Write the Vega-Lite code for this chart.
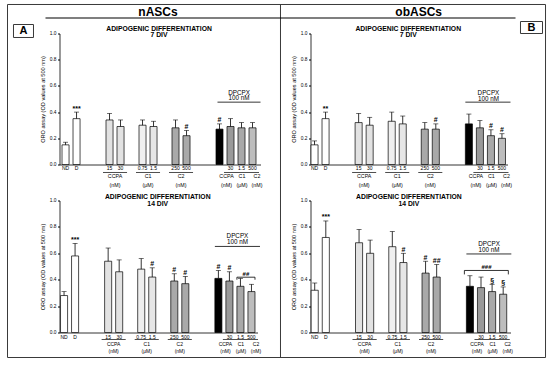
{
  "$schema": "https://vega.github.io/schema/vega-lite/v6.json",
  "background": "white",
  "padding": {"left": 6.5, "top": 3.5, "right": 4, "bottom": 6},
  "config": {"font": "Liberation Sans", "view": {"stroke": null}, "axisY": {"labelOverlap": false}},
  "bounds": "flush",
  "columns": 2,
  "spacing": {"row": 36, "column": 50},
  "concat": [
        {
          "width": 201, "height": 131,
          "data": {"values": [
            {"cond":"ND","mean":0.15,"upper":0.17,"sig":""},
            {"cond":"D","mean":0.35,"upper":0.40,"sig":"***"},
            {"cond":"CCPA 15","mean":0.34,"upper":0.39,"sig":""},
            {"cond":"CCPA 30","mean":0.29,"upper":0.34,"sig":""},
            {"cond":"C1 0.75","mean":0.30,"upper":0.34,"sig":""},
            {"cond":"C1 1.5","mean":0.29,"upper":0.33,"sig":""},
            {"cond":"C2 250","mean":0.28,"upper":0.34,"sig":""},
            {"cond":"C2 500","mean":0.22,"upper":0.26,"sig":"#"},
            {"cond":"DPCPX","mean":0.27,"upper":0.31,"sig":"#"},
            {"cond":"DPCPX+CCPA 30","mean":0.29,"upper":0.35,"sig":""},
            {"cond":"DPCPX+C1 1.5","mean":0.28,"upper":0.32,"sig":""},
            {"cond":"DPCPX+C2 500","mean":0.28,"upper":0.32,"sig":""}
          ]},
          "resolve": {"scale": {"x": "independent"}},
          "layer": [
            {"layer": [
              {"mark": {"type": "bar", "stroke": "black", "strokeWidth": 0.7},
               "encoding": {
                 "x": {"field": "cond", "type": "nominal",
                   "scale": {"domain": ["ND","D","gap1","gap2","CCPA 15","CCPA 30","gap3","C1 0.75","C1 1.5","gap4","C2 250","C2 500","gap5","gap6","DPCPX","DPCPX+CCPA 30","DPCPX+C1 1.5","DPCPX+C2 500"], "paddingInner": 0.36, "paddingOuter": 0.318, "align": 0.36},
                   "axis": {"title": null, "labelExpr": "indexof(datum.value,' ') > 0 ? split(datum.value,' ')[1] : ((datum.value == 'ND' || datum.value == 'D') ? datum.value : '')", "ticks": false, "tickSize": 0, "labelPadding": 1, "labelFontSize": 5, "labelAngle": 0, "labelOverlap": false, "domainColor": "black", "domainWidth": 0.8, "labelColor": "black"}},
                 "y": {"field": "mean", "type": "quantitative", "scale": {"domain": [0, 1], "nice": false},
                   "axis": {"title": "ORO assay (OD values at 500 nm)", "values": [0, 0.2, 0.4, 0.6, 0.8, 1], "tickCount": 12, "format": ".1f", "labelFontSize": 4.8, "labelOverlap": false, "tickSize": 2, "labelPadding": 1.5, "titleFontSize": 5.6, "titleFontWeight": "normal", "titlePadding": 3.5, "grid": false, "domainColor": "black", "tickColor": "black", "labelColor": "black", "titleColor": "black", "domainWidth": 0.8}},
                 "fill": {"field": "cond", "type": "nominal", "legend": null,
                   "scale": {"domain": ["ND","D","CCPA 15","CCPA 30","C1 0.75","C1 1.5","C2 250","C2 500","DPCPX","DPCPX+CCPA 30","DPCPX+C1 1.5","DPCPX+C2 500"], "range": ["#ffffff","#ffffff","#e2e2e2","#e2e2e2","#efefef","#e6e6e6","#a9a9a9","#a9a9a9","#000000","#9a9a9a","#a9a9a9","#bdbdbd"]}}
               }},
              {"mark": {"type": "rule", "color": "black", "strokeWidth": 0.8},
               "encoding": {"x": {"field": "cond", "type": "nominal"}, "y": {"field": "mean", "type": "quantitative"}, "y2": {"field": "upper"}}},
              {"mark": {"type": "tick", "color": "black", "size": 5, "thickness": 0.8},
               "encoding": {"x": {"field": "cond", "type": "nominal"}, "y": {"field": "upper", "type": "quantitative"}}},
              {"transform": [{"filter": "datum.sig != ''"}],
               "mark": {"type": "text", "baseline": "bottom", "dy": -0.5, "fontSize": 7, "fontWeight": "bold"},
               "encoding": {"x": {"field": "cond", "type": "nominal"}, "y": {"field": "upper", "type": "quantitative"}, "text": {"field": "sig"}}},
              {"data": {"values": [{"cond":"CCPA 15","g":"CCPA\n(nM)"},{"cond":"C1 0.75","g":"C1\n(μM)"},{"cond":"C2 250","g":"C2\n(nM)"}]},
               "mark": {"type": "text", "baseline": "top", "dx": 5.5, "fontSize": 5.3, "lineHeight": 9, "lineBreak": "\n"},
               "encoding": {"x": {"field": "cond", "type": "nominal"}, "y": {"datum": -0.0714}, "text": {"field": "g"}}},
              {"data": {"values": [{"cond":"CCPA 15","end":"CCPA 30"},{"cond":"C1 0.75","end":"C1 1.5"},{"cond":"C2 250","end":"C2 500"},{"cond":"DPCPX+CCPA 30","end":"DPCPX+C2 500"}]},
               "mark": {"type": "rule", "color": "black", "strokeWidth": 0.7, "xOffset": -3, "x2Offset": 3},
               "encoding": {"x": {"field": "cond", "type": "nominal", "bandPosition": 0}, "x2": {"field": "end", "bandPosition": 1}, "y": {"datum": -0.061}}},
              {"data": {"values": [{"cond":"DPCPX+CCPA 30","g":"CCPA\n(nM)"}]},
               "mark": {"type": "text", "baseline": "top", "dx": -4, "fontSize": 5.3, "lineHeight": 9, "lineBreak": "\n"},
               "encoding": {"x": {"field": "cond", "type": "nominal"}, "y": {"datum": -0.0714}, "text": {"field": "g"}}},
              {"data": {"values": [{"cond":"DPCPX+C1 1.5","g":"C1\n(μM)"}]},
               "mark": {"type": "text", "baseline": "top", "dx": 0.5, "fontSize": 5.3, "lineHeight": 9, "lineBreak": "\n"},
               "encoding": {"x": {"field": "cond", "type": "nominal"}, "y": {"datum": -0.0714}, "text": {"field": "g"}}},
              {"data": {"values": [{"cond":"DPCPX+C2 500","g":"C2\n(nM)"}]},
               "mark": {"type": "text", "baseline": "top", "dx": 4.5, "fontSize": 5.3, "lineHeight": 9, "lineBreak": "\n"},
               "encoding": {"x": {"field": "cond", "type": "nominal"}, "y": {"datum": -0.0714}, "text": {"field": "g"}}},
              {"data": {"values": [{"cond":"DPCPX+C1 1.5","t":"DPCPX\n100 nM"}]},
               "mark": {"type": "text", "baseline": "top", "dx": -2.5, "fontSize": 6.3, "lineHeight": 5.5, "lineBreak": "\n"},
               "encoding": {"x": {"field": "cond", "type": "nominal"}, "y": {"datum": 0.569}, "text": {"field": "t"}}},
              {"data": {"values": [{"cond":"DPCPX","end":"DPCPX+C2 500"}]},
               "mark": {"type": "rule", "color": "black", "strokeWidth": 0.8, "xOffset": 1.5, "x2Offset": 4.5},
               "encoding": {"x": {"field": "cond", "type": "nominal", "bandPosition": 0}, "x2": {"field": "end", "bandPosition": 1}, "y": {"datum": 0.476}}},
              {"data": {"values": [{"cond":"C1 1.5","t":"ADIPOGENIC DIFFERENTIATION\n7 DIV"}]},
               "mark": {"type": "text", "baseline": "top", "dx": 5.5, "dy": -8, "fontSize": 6.8, "fontWeight": "bold", "lineHeight": 6.5, "lineBreak": "\n"},
               "encoding": {"x": {"field": "cond", "type": "nominal"}, "y": {"datum": 1}, "text": {"field": "t"}}}
            ]},
            {"data": {"values": [{}]},
             "layer": [
              {"mark": {"type": "rect", "fill": "white", "fillOpacity": 0, "stroke": "#3a3a3a", "strokeWidth": 1},
               "encoding": {"x": {"datum": -0.2587, "type": "quantitative", "scale": {"domain": [0, 1], "nice": false, "zero": false}, "axis": null}, "x2": {"datum": 2.418}, "y": {"datum": 1.2214, "type": "quantitative"}, "y2": {"datum": -1.4733}}},
              {"mark": {"type": "rule", "color": "#3a3a3a", "strokeWidth": 1},
               "encoding": {"x": {"datum": 1.0995, "type": "quantitative"}, "y": {"datum": 1.2214, "type": "quantitative"}, "y2": {"datum": -1.4733}}},
              {"mark": {"type": "rule", "color": "black", "strokeWidth": 1.2},
               "encoding": {"x": {"datum": -0.0697, "type": "quantitative"}, "x2": {"datum": 2.2687}, "y": {"datum": 1.1183, "type": "quantitative"}}},
              {"mark": {"type": "text", "fontSize": 12, "fontWeight": "bold", "baseline": "middle"},
               "encoding": {"x": {"datum": 0.490, "type": "quantitative"}, "y": {"datum": 1.1641, "type": "quantitative"}, "text": {"value": "nASCs"}}},
              {"mark": {"type": "text", "fontSize": 12, "fontWeight": "bold", "baseline": "middle"},
               "encoding": {"x": {"datum": 1.787, "type": "quantitative"}, "y": {"datum": 1.1641, "type": "quantitative"}, "text": {"value": "obASCs"}}},
              {"mark": {"type": "rect", "fill": "white", "stroke": "#3a3a3a", "strokeWidth": 1},
               "encoding": {"x": {"datum": -0.2289, "type": "quantitative"}, "x2": {"datum": -0.1294}, "y": {"datum": 1.0687, "type": "quantitative"}, "y2": {"datum": 0.9695}}},
              {"mark": {"type": "text", "fontSize": 11, "fontWeight": "bold", "baseline": "middle"},
               "encoding": {"x": {"datum": -0.1791, "type": "quantitative"}, "y": {"datum": 1.0191, "type": "quantitative"}, "text": {"value": "A"}}},
              {"mark": {"type": "rect", "fill": "white", "stroke": "#3a3a3a", "strokeWidth": 1},
               "encoding": {"x": {"datum": 2.2935, "type": "quantitative"}, "x2": {"datum": 2.403}, "y": {"datum": 1.0916, "type": "quantitative"}, "y2": {"datum": 1.0}}},
              {"mark": {"type": "text", "fontSize": 11, "fontWeight": "bold", "baseline": "middle"},
               "encoding": {"x": {"datum": 2.3483, "type": "quantitative"}, "y": {"datum": 1.0458, "type": "quantitative"}, "text": {"value": "B"}}}
             ]}
          ]
        },
        {
          "width": 197, "height": 131,
          "data": {"values": [
            {"cond":"ND","mean":0.15,"upper":0.18,"sig":""},
            {"cond":"D","mean":0.35,"upper":0.40,"sig":"**"},
            {"cond":"CCPA 15","mean":0.32,"upper":0.39,"sig":""},
            {"cond":"CCPA 30","mean":0.30,"upper":0.36,"sig":""},
            {"cond":"C1 0.75","mean":0.33,"upper":0.40,"sig":""},
            {"cond":"C1 1.5","mean":0.31,"upper":0.37,"sig":""},
            {"cond":"C2 250","mean":0.27,"upper":0.32,"sig":""},
            {"cond":"C2 500","mean":0.27,"upper":0.31,"sig":"#"},
            {"cond":"DPCPX","mean":0.31,"upper":0.385,"sig":""},
            {"cond":"DPCPX+CCPA 30","mean":0.28,"upper":0.335,"sig":""},
            {"cond":"DPCPX+C1 1.5","mean":0.22,"upper":0.265,"sig":"#"},
            {"cond":"DPCPX+C2 500","mean":0.20,"upper":0.235,"sig":"#"}
          ]},
          "layer": [
            {"mark": {"type": "bar", "stroke": "black", "strokeWidth": 0.7},
             "encoding": {
               "x": {"field": "cond", "type": "nominal",
                 "scale": {"domain": ["ND","D","gap1","gap2","CCPA 15","CCPA 30","gap3","C1 0.75","C1 1.5","gap4","C2 250","C2 500","gap5","gap6","DPCPX","DPCPX+CCPA 30","DPCPX+C1 1.5","DPCPX+C2 500"], "paddingInner": 0.36, "paddingOuter": 0.114, "align": 0.2},
                 "axis": {"title": null, "labelExpr": "indexof(datum.value,' ') > 0 ? split(datum.value,' ')[1] : ((datum.value == 'ND' || datum.value == 'D') ? datum.value : '')", "ticks": false, "tickSize": 0, "labelPadding": 1, "labelFontSize": 5, "labelAngle": 0, "labelOverlap": false, "domainColor": "black", "domainWidth": 0.8, "labelColor": "black"}},
               "y": {"field": "mean", "type": "quantitative", "scale": {"domain": [0, 1], "nice": false},
                 "axis": {"title": "ORO assay (OD values at 500 nm)", "values": [0, 0.2, 0.4, 0.6, 0.8, 1], "tickCount": 12, "format": ".1f", "labelFontSize": 4.8, "labelOverlap": false, "tickSize": 2, "labelPadding": 1.5, "titleFontSize": 5.6, "titleFontWeight": "normal", "titlePadding": 3.5, "grid": false, "domainColor": "black", "tickColor": "black", "labelColor": "black", "titleColor": "black", "domainWidth": 0.8}},
               "fill": {"field": "cond", "type": "nominal", "legend": null,
                 "scale": {"domain": ["ND","D","CCPA 15","CCPA 30","C1 0.75","C1 1.5","C2 250","C2 500","DPCPX","DPCPX+CCPA 30","DPCPX+C1 1.5","DPCPX+C2 500"], "range": ["#ffffff","#ffffff","#e2e2e2","#e2e2e2","#e6e6e6","#efefef","#a9a9a9","#a9a9a9","#000000","#9a9a9a","#a9a9a9","#bdbdbd"]}}
             }},
            {"mark": {"type": "rule", "color": "black", "strokeWidth": 0.8},
             "encoding": {"x": {"field": "cond", "type": "nominal"}, "y": {"field": "mean", "type": "quantitative"}, "y2": {"field": "upper"}}},
            {"mark": {"type": "tick", "color": "black", "size": 5, "thickness": 0.8},
             "encoding": {"x": {"field": "cond", "type": "nominal"}, "y": {"field": "upper", "type": "quantitative"}}},
            {"transform": [{"filter": "datum.sig != ''"}],
             "mark": {"type": "text", "baseline": "bottom", "dy": -0.5, "fontSize": 7, "fontWeight": "bold"},
             "encoding": {"x": {"field": "cond", "type": "nominal"}, "y": {"field": "upper", "type": "quantitative"}, "text": {"field": "sig"}}},
            {"data": {"values": [{"cond":"CCPA 15","g":"CCPA\n(nM)"},{"cond":"C1 0.75","g":"C1\n(μM)"},{"cond":"C2 250","g":"C2\n(nM)"}]},
             "mark": {"type": "text", "baseline": "top", "dx": 5.5, "fontSize": 5.3, "lineHeight": 9, "lineBreak": "\n"},
             "encoding": {"x": {"field": "cond", "type": "nominal"}, "y": {"datum": -0.0714}, "text": {"field": "g"}}},
            {"data": {"values": [{"cond":"CCPA 15","end":"CCPA 30"},{"cond":"C1 0.75","end":"C1 1.5"},{"cond":"C2 250","end":"C2 500"},{"cond":"DPCPX+CCPA 30","end":"DPCPX+C2 500"}]},
             "mark": {"type": "rule", "color": "black", "strokeWidth": 0.7, "xOffset": -3, "x2Offset": 3},
             "encoding": {"x": {"field": "cond", "type": "nominal", "bandPosition": 0}, "x2": {"field": "end", "bandPosition": 1}, "y": {"datum": -0.061}}},
            {"data": {"values": [{"cond":"DPCPX+CCPA 30","g":"CCPA\n(nM)"}]},
             "mark": {"type": "text", "baseline": "top", "dx": -4, "fontSize": 5.3, "lineHeight": 9, "lineBreak": "\n"},
             "encoding": {"x": {"field": "cond", "type": "nominal"}, "y": {"datum": -0.0714}, "text": {"field": "g"}}},
            {"data": {"values": [{"cond":"DPCPX+C1 1.5","g":"C1\n(μM)"}]},
             "mark": {"type": "text", "baseline": "top", "dx": 0.5, "fontSize": 5.3, "lineHeight": 9, "lineBreak": "\n"},
             "encoding": {"x": {"field": "cond", "type": "nominal"}, "y": {"datum": -0.0714}, "text": {"field": "g"}}},
            {"data": {"values": [{"cond":"DPCPX+C2 500","g":"C2\n(nM)"}]},
             "mark": {"type": "text", "baseline": "top", "dx": 4.5, "fontSize": 5.3, "lineHeight": 9, "lineBreak": "\n"},
             "encoding": {"x": {"field": "cond", "type": "nominal"}, "y": {"datum": -0.0714}, "text": {"field": "g"}}},
            {"data": {"values": [{"cond":"DPCPX+C1 1.5","t":"DPCPX\n100 nM"}]},
             "mark": {"type": "text", "baseline": "top", "dx": -2.5, "fontSize": 6.3, "lineHeight": 5.5, "lineBreak": "\n"},
             "encoding": {"x": {"field": "cond", "type": "nominal"}, "y": {"datum": 0.566}, "text": {"field": "t"}}},
            {"data": {"values": [{"cond":"DPCPX","end":"DPCPX+C2 500"}]},
             "mark": {"type": "rule", "color": "black", "strokeWidth": 0.8, "xOffset": 0, "x2Offset": 5},
             "encoding": {"x": {"field": "cond", "type": "nominal", "bandPosition": 0}, "x2": {"field": "end", "bandPosition": 1}, "y": {"datum": 0.476}}},
            {"data": {"values": [{"cond":"C1 1.5","t":"ADIPOGENIC DIFFERENTIATION\n7 DIV"}]},
             "mark": {"type": "text", "baseline": "top", "dx": 5.5, "dy": -8, "fontSize": 6.8, "fontWeight": "bold", "lineHeight": 6.5, "lineBreak": "\n"},
             "encoding": {"x": {"field": "cond", "type": "nominal"}, "y": {"datum": 1}, "text": {"field": "t"}}}
          ]
        },
        {
          "width": 198, "height": 132,
          "data": {"values": [
            {"cond":"ND","mean":0.28,"upper":0.31,"sig":""},
            {"cond":"D","mean":0.58,"upper":0.675,"sig":"***"},
            {"cond":"CCPA 15","mean":0.54,"upper":0.64,"sig":""},
            {"cond":"CCPA 30","mean":0.46,"upper":0.55,"sig":""},
            {"cond":"C1 0.75","mean":0.48,"upper":0.56,"sig":""},
            {"cond":"C1 1.5","mean":0.42,"upper":0.49,"sig":"#"},
            {"cond":"C2 250","mean":0.39,"upper":0.445,"sig":"#"},
            {"cond":"C2 500","mean":0.37,"upper":0.425,"sig":"#"},
            {"cond":"DPCPX","mean":0.41,"upper":0.47,"sig":"#"},
            {"cond":"DPCPX+CCPA 30","mean":0.39,"upper":0.46,"sig":"#"},
            {"cond":"DPCPX+C1 1.5","mean":0.35,"upper":0.41,"sig":""},
            {"cond":"DPCPX+C2 500","mean":0.31,"upper":0.365,"sig":""}
          ]},
          "layer": [
            {"mark": {"type": "bar", "stroke": "black", "strokeWidth": 0.7},
             "encoding": {
               "x": {"field": "cond", "type": "nominal",
                 "scale": {"domain": ["ND","D","gap1","gap2","CCPA 15","CCPA 30","gap3","C1 0.75","C1 1.5","gap4","C2 250","C2 500","gap5","gap6","DPCPX","DPCPX+CCPA 30","DPCPX+C1 1.5","DPCPX+C2 500"], "paddingInner": 0.36, "paddingOuter": 0.16, "align": 0.29},
                 "axis": {"title": null, "labelExpr": "indexof(datum.value,' ') > 0 ? split(datum.value,' ')[1] : ((datum.value == 'ND' || datum.value == 'D') ? datum.value : '')", "ticks": false, "tickSize": 0, "labelPadding": 1.5, "labelFontSize": 5, "labelAngle": 0, "labelOverlap": false, "domainColor": "black", "domainWidth": 0.8, "labelColor": "black"}},
               "y": {"field": "mean", "type": "quantitative", "scale": {"domain": [0, 1], "nice": false},
                 "axis": {"title": "ORO assay (OD values at 500 nm)", "values": [0, 0.2, 0.4, 0.6, 0.8, 1], "tickCount": 12, "format": ".1f", "labelFontSize": 4.8, "labelOverlap": false, "tickSize": 2, "labelPadding": 1.5, "titleFontSize": 5.6, "titleFontWeight": "normal", "titlePadding": 3.5, "grid": false, "domainColor": "black", "tickColor": "black", "labelColor": "black", "titleColor": "black", "domainWidth": 0.8}},
               "fill": {"field": "cond", "type": "nominal", "legend": null,
                 "scale": {"domain": ["ND","D","CCPA 15","CCPA 30","C1 0.75","C1 1.5","C2 250","C2 500","DPCPX","DPCPX+CCPA 30","DPCPX+C1 1.5","DPCPX+C2 500"], "range": ["#ffffff","#ffffff","#e2e2e2","#e2e2e2","#efefef","#e6e6e6","#a9a9a9","#a9a9a9","#000000","#9a9a9a","#a9a9a9","#bdbdbd"]}}
             }},
            {"mark": {"type": "rule", "color": "black", "strokeWidth": 0.8},
             "encoding": {"x": {"field": "cond", "type": "nominal"}, "y": {"field": "mean", "type": "quantitative"}, "y2": {"field": "upper"}}},
            {"mark": {"type": "tick", "color": "black", "size": 5, "thickness": 0.8},
             "encoding": {"x": {"field": "cond", "type": "nominal"}, "y": {"field": "upper", "type": "quantitative"}}},
            {"transform": [{"filter": "datum.sig != ''"}],
             "mark": {"type": "text", "baseline": "bottom", "dy": -0.5, "fontSize": 7, "fontWeight": "bold"},
             "encoding": {"x": {"field": "cond", "type": "nominal"}, "y": {"field": "upper", "type": "quantitative"}, "text": {"field": "sig"}}},
            {"data": {"values": [{"cond":"CCPA 15","g":"CCPA\n(nM)"},{"cond":"C1 0.75","g":"C1\n(μM)"},{"cond":"C2 250","g":"C2\n(nM)"}]},
             "mark": {"type": "text", "baseline": "top", "dx": 5.5, "fontSize": 5, "lineHeight": 6.5, "lineBreak": "\n"},
             "encoding": {"x": {"field": "cond", "type": "nominal"}, "y": {"datum": -0.0735}, "text": {"field": "g"}}},
            {"data": {"values": [{"cond":"CCPA 15","end":"CCPA 30"},{"cond":"C1 0.75","end":"C1 1.5"},{"cond":"C2 250","end":"C2 500"},{"cond":"DPCPX+CCPA 30","end":"DPCPX+C2 500"}]},
             "mark": {"type": "rule", "color": "black", "strokeWidth": 0.7, "xOffset": -3, "x2Offset": 3},
             "encoding": {"x": {"field": "cond", "type": "nominal", "bandPosition": 0}, "x2": {"field": "end", "bandPosition": 1}, "y": {"datum": -0.053}}},
            {"data": {"values": [{"cond":"DPCPX+CCPA 30","g":"CCPA\n(nM)"}]},
             "mark": {"type": "text", "baseline": "top", "dx": -4, "fontSize": 5, "lineHeight": 6.5, "lineBreak": "\n"},
             "encoding": {"x": {"field": "cond", "type": "nominal"}, "y": {"datum": -0.0735}, "text": {"field": "g"}}},
            {"data": {"values": [{"cond":"DPCPX+C1 1.5","g":"C1\n(μM)"}]},
             "mark": {"type": "text", "baseline": "top", "dx": 0.5, "fontSize": 5, "lineHeight": 6.5, "lineBreak": "\n"},
             "encoding": {"x": {"field": "cond", "type": "nominal"}, "y": {"datum": -0.0735}, "text": {"field": "g"}}},
            {"data": {"values": [{"cond":"DPCPX+C2 500","g":"C2\n(nM)"}]},
             "mark": {"type": "text", "baseline": "top", "dx": 4.5, "fontSize": 5, "lineHeight": 6.5, "lineBreak": "\n"},
             "encoding": {"x": {"field": "cond", "type": "nominal"}, "y": {"datum": -0.0735}, "text": {"field": "g"}}},
            {"data": {"values": [{"cond":"DPCPX+C1 1.5","t":"DPCPX\n100 nM"}]},
             "mark": {"type": "text", "baseline": "top", "dx": -3, "fontSize": 6.3, "lineHeight": 6, "lineBreak": "\n"},
             "encoding": {"x": {"field": "cond", "type": "nominal"}, "y": {"datum": 0.751}, "text": {"field": "t"}}},
            {"data": {"values": [{"cond":"DPCPX","end":"DPCPX+C2 500"}]},
             "mark": {"type": "rule", "color": "black", "strokeWidth": 0.8, "xOffset": 0, "x2Offset": 5},
             "encoding": {"x": {"field": "cond", "type": "nominal", "bandPosition": 0}, "x2": {"field": "end", "bandPosition": 1}, "y": {"datum": 0.652}}},
            {"data": {"values": [{"cond":"DPCPX+C1 1.5","end":"DPCPX+C2 500"}]},
             "mark": {"type": "rule", "color": "black", "strokeWidth": 0.8},
             "encoding": {"x": {"field": "cond", "type": "nominal", "bandPosition": 0}, "x2": {"field": "end", "bandPosition": 1}, "y": {"datum": 0.419}}},
            {"data": {"values": [{"cond":"DPCPX+C1 1.5"}]},
             "mark": {"type": "rule", "color": "black", "strokeWidth": 0.8},
             "encoding": {"x": {"field": "cond", "type": "nominal", "bandPosition": 0}, "y": {"datum": 0.419}, "y2": {"datum": 0.40}}},
            {"data": {"values": [{"cond":"DPCPX+C2 500"}]},
             "mark": {"type": "rule", "color": "black", "strokeWidth": 0.8},
             "encoding": {"x": {"field": "cond", "type": "nominal", "bandPosition": 1}, "y": {"datum": 0.419}, "y2": {"datum": 0.40}}},
            {"data": {"values": [{"cond":"DPCPX+C1 1.5","t":"##"}]},
             "mark": {"type": "text", "baseline": "bottom", "dx": 5.5, "dy": -0.5, "fontSize": 6, "fontWeight": "bold"},
             "encoding": {"x": {"field": "cond", "type": "nominal"}, "y": {"datum": 0.419}, "text": {"field": "t"}}},
            {"data": {"values": [{"cond":"C1 1.5","t":"ADIPOGENIC DIFFERENTIATION\n14 DIV"}]},
             "mark": {"type": "text", "baseline": "top", "dx": 5.5, "dy": -6.5, "fontSize": 6.8, "fontWeight": "bold", "lineHeight": 6.5, "lineBreak": "\n"},
             "encoding": {"x": {"field": "cond", "type": "nominal"}, "y": {"datum": 1}, "text": {"field": "t"}}}
          ]
        },
        {
          "width": 200, "height": 132,
          "data": {"values": [
            {"cond":"ND","mean":0.32,"upper":0.375,"sig":""},
            {"cond":"D","mean":0.72,"upper":0.845,"sig":"***"},
            {"cond":"CCPA 15","mean":0.68,"upper":0.78,"sig":""},
            {"cond":"CCPA 30","mean":0.60,"upper":0.70,"sig":""},
            {"cond":"C1 0.75","mean":0.65,"upper":0.765,"sig":""},
            {"cond":"C1 1.5","mean":0.53,"upper":0.60,"sig":"#"},
            {"cond":"C2 250","mean":0.45,"upper":0.54,"sig":"#"},
            {"cond":"C2 500","mean":0.42,"upper":0.515,"sig":"##"},
            {"cond":"DPCPX","mean":0.35,"upper":0.43,"sig":""},
            {"cond":"DPCPX+CCPA 30","mean":0.34,"upper":0.42,"sig":""},
            {"cond":"DPCPX+C1 1.5","mean":0.31,"upper":0.365,"sig":"§"},
            {"cond":"DPCPX+C2 500","mean":0.29,"upper":0.345,"sig":"§"}
          ]},
          "layer": [
            {"mark": {"type": "bar", "stroke": "black", "strokeWidth": 0.7},
             "encoding": {
               "x": {"field": "cond", "type": "nominal",
                 "scale": {"domain": ["ND","D","gap1","gap2","CCPA 15","CCPA 30","gap3","C1 0.75","C1 1.5","gap4","C2 250","C2 500","gap5","gap6","DPCPX","DPCPX+CCPA 30","DPCPX+C1 1.5","DPCPX+C2 500"], "paddingInner": 0.36, "paddingOuter": 0.2, "align": 0.15},
                 "axis": {"title": null, "labelExpr": "indexof(datum.value,' ') > 0 ? split(datum.value,' ')[1] : ((datum.value == 'ND' || datum.value == 'D') ? datum.value : '')", "ticks": false, "tickSize": 0, "labelPadding": 1.5, "labelFontSize": 5, "labelAngle": 0, "labelOverlap": false, "domainColor": "black", "domainWidth": 0.8, "labelColor": "black"}},
               "y": {"field": "mean", "type": "quantitative", "scale": {"domain": [0, 1], "nice": false},
                 "axis": {"title": "ORO assay (OD values at 500 nm)", "values": [0, 0.2, 0.4, 0.6, 0.8, 1], "tickCount": 12, "format": ".1f", "labelFontSize": 4.8, "labelOverlap": false, "tickSize": 2, "labelPadding": 1.5, "titleFontSize": 5.6, "titleFontWeight": "normal", "titlePadding": 3.5, "grid": false, "domainColor": "black", "tickColor": "black", "labelColor": "black", "titleColor": "black", "domainWidth": 0.8}},
               "fill": {"field": "cond", "type": "nominal", "legend": null,
                 "scale": {"domain": ["ND","D","CCPA 15","CCPA 30","C1 0.75","C1 1.5","C2 250","C2 500","DPCPX","DPCPX+CCPA 30","DPCPX+C1 1.5","DPCPX+C2 500"], "range": ["#ffffff","#ffffff","#e2e2e2","#e2e2e2","#efefef","#eaeaea","#a9a9a9","#a9a9a9","#000000","#9a9a9a","#a9a9a9","#bdbdbd"]}}
             }},
            {"mark": {"type": "rule", "color": "black", "strokeWidth": 0.8},
             "encoding": {"x": {"field": "cond", "type": "nominal"}, "y": {"field": "mean", "type": "quantitative"}, "y2": {"field": "upper"}}},
            {"mark": {"type": "tick", "color": "black", "size": 5, "thickness": 0.8},
             "encoding": {"x": {"field": "cond", "type": "nominal"}, "y": {"field": "upper", "type": "quantitative"}}},
            {"transform": [{"filter": "datum.sig != ''"}],
             "mark": {"type": "text", "baseline": "bottom", "dy": -0.5, "fontSize": 7, "fontWeight": "bold"},
             "encoding": {"x": {"field": "cond", "type": "nominal"}, "y": {"field": "upper", "type": "quantitative"}, "text": {"field": "sig"}}},
            {"data": {"values": [{"cond":"CCPA 15","g":"CCPA\n(nM)"},{"cond":"C1 0.75","g":"C1\n(μM)"},{"cond":"C2 250","g":"C2\n(nM)"}]},
             "mark": {"type": "text", "baseline": "top", "dx": 5.5, "fontSize": 5, "lineHeight": 6.5, "lineBreak": "\n"},
             "encoding": {"x": {"field": "cond", "type": "nominal"}, "y": {"datum": -0.0735}, "text": {"field": "g"}}},
            {"data": {"values": [{"cond":"CCPA 15","end":"CCPA 30"},{"cond":"C1 0.75","end":"C1 1.5"},{"cond":"C2 250","end":"C2 500"},{"cond":"DPCPX+CCPA 30","end":"DPCPX+C2 500"}]},
             "mark": {"type": "rule", "color": "black", "strokeWidth": 0.7, "xOffset": -3, "x2Offset": 3},
             "encoding": {"x": {"field": "cond", "type": "nominal", "bandPosition": 0}, "x2": {"field": "end", "bandPosition": 1}, "y": {"datum": -0.053}}},
            {"data": {"values": [{"cond":"DPCPX+CCPA 30","g":"CCPA\n(nM)"}]},
             "mark": {"type": "text", "baseline": "top", "dx": -4, "fontSize": 5, "lineHeight": 6.5, "lineBreak": "\n"},
             "encoding": {"x": {"field": "cond", "type": "nominal"}, "y": {"datum": -0.0735}, "text": {"field": "g"}}},
            {"data": {"values": [{"cond":"DPCPX+C1 1.5","g":"C1\n(μM)"}]},
             "mark": {"type": "text", "baseline": "top", "dx": 0.5, "fontSize": 5, "lineHeight": 6.5, "lineBreak": "\n"},
             "encoding": {"x": {"field": "cond", "type": "nominal"}, "y": {"datum": -0.0735}, "text": {"field": "g"}}},
            {"data": {"values": [{"cond":"DPCPX+C2 500","g":"C2\n(nM)"}]},
             "mark": {"type": "text", "baseline": "top", "dx": 4.5, "fontSize": 5, "lineHeight": 6.5, "lineBreak": "\n"},
             "encoding": {"x": {"field": "cond", "type": "nominal"}, "y": {"datum": -0.0735}, "text": {"field": "g"}}},
            {"data": {"values": [{"cond":"DPCPX+C1 1.5","t":"DPCPX\n100 nM"}]},
             "mark": {"type": "text", "baseline": "top", "dx": -3, "fontSize": 6.3, "lineHeight": 5.5, "lineBreak": "\n"},
             "encoding": {"x": {"field": "cond", "type": "nominal"}, "y": {"datum": 0.690}, "text": {"field": "t"}}},
            {"data": {"values": [{"cond":"DPCPX","end":"DPCPX+C2 500"}]},
             "mark": {"type": "rule", "color": "black", "strokeWidth": 0.8, "xOffset": 0, "x2Offset": 4.6},
             "encoding": {"x": {"field": "cond", "type": "nominal", "bandPosition": 0}, "x2": {"field": "end", "bandPosition": 1}, "y": {"datum": 0.595}}},
            {"data": {"values": [{"cond":"DPCPX","end":"DPCPX+C2 500"}]},
             "mark": {"type": "rule", "color": "black", "strokeWidth": 0.8, "xOffset": -2, "x2Offset": 1.6},
             "encoding": {"x": {"field": "cond", "type": "nominal", "bandPosition": 0}, "x2": {"field": "end", "bandPosition": 1}, "y": {"datum": 0.47}}},
            {"data": {"values": [{"cond":"DPCPX"}]},
             "mark": {"type": "rule", "color": "black", "strokeWidth": 0.8, "xOffset": -2},
             "encoding": {"x": {"field": "cond", "type": "nominal", "bandPosition": 0}, "y": {"datum": 0.47}, "y2": {"datum": 0.44}}},
            {"data": {"values": [{"cond":"DPCPX+C2 500"}]},
             "mark": {"type": "rule", "color": "black", "strokeWidth": 0.8, "xOffset": 1.6},
             "encoding": {"x": {"field": "cond", "type": "nominal", "bandPosition": 1}, "y": {"datum": 0.47}, "y2": {"datum": 0.44}}},
            {"data": {"values": [{"cond":"DPCPX+CCPA 30","t":"###"}]},
             "mark": {"type": "text", "baseline": "bottom", "dx": 5.5, "dy": -0.5, "fontSize": 6, "fontWeight": "bold"},
             "encoding": {"x": {"field": "cond", "type": "nominal"}, "y": {"datum": 0.47}, "text": {"field": "t"}}},
            {"data": {"values": [{"cond":"C1 1.5","t":"ADIPOGENIC DIFFERENTIATION\n14 DIV"}]},
             "mark": {"type": "text", "baseline": "top", "dx": 5.5, "dy": -6.5, "fontSize": 6.8, "fontWeight": "bold", "lineHeight": 6.5, "lineBreak": "\n"},
             "encoding": {"x": {"field": "cond", "type": "nominal"}, "y": {"datum": 1}, "text": {"field": "t"}}}
          ]
        }
  ]
}
